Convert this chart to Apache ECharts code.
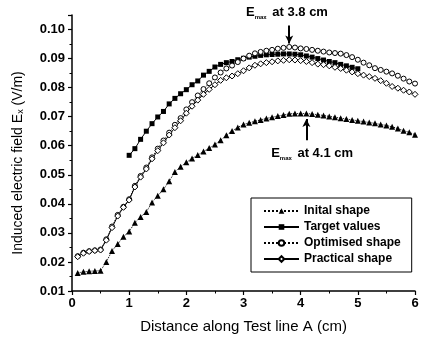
<!DOCTYPE html>
<html>
<head>
<meta charset="utf-8">
<script src="https://cdn.jsdelivr.net/npm/echarts@6/dist/echarts.min.js"></script>
<style>
  html, body { margin: 0; padding: 0; background: #fff; }
  #chart { width: 422px; height: 340px; }
</style>
</head>
<body>
<div id="chart"></div>
<script>
// distances along test line A (cm)
const distFull = [0.1, 0.2, 0.3, 0.4, 0.5, 0.6, 0.7, 0.8, 0.9, 1.0,
  1.1, 1.2, 1.3, 1.4, 1.5, 1.6, 1.7, 1.8, 1.9, 2.0,
  2.1, 2.2, 2.3, 2.4, 2.5, 2.6, 2.7, 2.8, 2.9, 3.0,
  3.1, 3.2, 3.3, 3.4, 3.5, 3.6, 3.7, 3.8, 3.9, 4.0,
  4.1, 4.2, 4.3, 4.4, 4.5, 4.6, 4.7, 4.8, 4.9, 5.0,
  5.1, 5.2, 5.3, 5.4, 5.5, 5.6, 5.7, 5.8, 5.9, 6.0]
const distTarget = [1.0, 1.1, 1.2, 1.3, 1.4, 1.5, 1.6, 1.7, 1.8, 1.9, 2.0,
  2.1, 2.2, 2.3, 2.4, 2.5, 2.6, 2.7, 2.8, 2.9, 3.0,
  3.1, 3.2, 3.3, 3.4, 3.5, 3.6, 3.7, 3.8, 3.9, 4.0,
  4.1, 4.2, 4.3, 4.4, 4.5, 4.6, 4.7, 4.8, 4.9, 5.0]

// induced field Ex (V/m)
const initialShape = [0.0162, 0.0166, 0.0168, 0.0169, 0.0170, 0.0200, 0.0238, 0.0262, 0.0287, 0.0305,
  0.0335, 0.0355, 0.0372, 0.0405, 0.0428, 0.0450, 0.0478, 0.0510, 0.0528, 0.0543,
  0.0556, 0.0568, 0.0580, 0.0592, 0.0604, 0.0619, 0.0636, 0.0651, 0.0663, 0.0673,
  0.0679, 0.0684, 0.0689, 0.0694, 0.0698, 0.0702, 0.0706, 0.0710, 0.0711, 0.0711,
  0.0711, 0.0709, 0.0707, 0.0704, 0.0701, 0.0698, 0.0695, 0.0692, 0.0689, 0.0686,
  0.0683, 0.0680, 0.0677, 0.0673, 0.0670, 0.0665, 0.0659, 0.0652, 0.0646, 0.0638]
const targetValues = [0.0567, 0.0590, 0.0622, 0.0650, 0.0676, 0.0699, 0.0718, 0.0744, 0.0763, 0.0779, 0.0793,
  0.0810, 0.0823, 0.0843, 0.0856, 0.0871, 0.0880, 0.0886, 0.0890, 0.0896, 0.0901,
  0.0905, 0.0908, 0.0911, 0.0913, 0.0914, 0.0915, 0.0916, 0.0916, 0.0915, 0.0913,
  0.0909, 0.0905, 0.0900, 0.0895, 0.0890, 0.0886, 0.0880, 0.0875, 0.0870, 0.0865]
const optimisedShape = [0.0220, 0.0232, 0.0237, 0.0240, 0.0243, 0.0278, 0.0322, 0.0362, 0.0390, 0.0416,
  0.0462, 0.0496, 0.0525, 0.0560, 0.0590, 0.0618, 0.0645, 0.0672, 0.0695, 0.0725,
  0.0750, 0.0773, 0.0795, 0.0815, 0.0835, 0.0852, 0.0866, 0.0876, 0.0888, 0.0900,
  0.0910, 0.0918, 0.0923, 0.0927, 0.0930, 0.0934, 0.0937, 0.0940, 0.0938, 0.0935,
  0.0933, 0.0930, 0.0927, 0.0924, 0.0921, 0.0919, 0.0917, 0.0912, 0.0905, 0.0896,
  0.0886, 0.0877, 0.0867, 0.0861, 0.0855, 0.0849, 0.0841, 0.0831, 0.0821, 0.0814]
const practicalShape = [0.0218, 0.0230, 0.0236, 0.0239, 0.0241, 0.0275, 0.0318, 0.0358, 0.0388, 0.0413,
  0.0458, 0.0492, 0.0520, 0.0555, 0.0583, 0.0610, 0.0637, 0.0662, 0.0686, 0.0712,
  0.0736, 0.0757, 0.0777, 0.0794, 0.0810, 0.0825, 0.0834, 0.0840, 0.0848, 0.0858,
  0.0868, 0.0877, 0.0882, 0.0886, 0.0889, 0.0892, 0.0894, 0.0896, 0.0895, 0.0893,
  0.0890, 0.0886, 0.0881, 0.0879, 0.0875, 0.0870, 0.0866, 0.0860, 0.0854, 0.0848,
  0.0843, 0.0838, 0.0832, 0.0824, 0.0815, 0.0804, 0.0798, 0.0791, 0.0785, 0.0777]

const seriesNames = ['Inital shape', 'Target values', 'Optimised shape', 'Practical shape']

function pairs(xs, ys) {
  return xs.map((x, i) => [x, ys[i]])
}

const font = 'Liberation Sans, Arial, sans-serif'
const annotRich = {
  e: { fontSize: 13, fontWeight: 'bold', fontFamily: font, color: '#000', lineHeight: 16 },
  s: { fontSize: 6, fontWeight: 'bold', fontFamily: font, color: '#000', lineHeight: 6, padding: [9, 2, 0, 0] },
  t: { fontSize: 13, fontWeight: 'bold', fontFamily: font, color: '#000', lineHeight: 16 },
}

const chart = echarts.init(document.getElementById('chart'), null, { renderer: 'canvas' })

const axisCommon = {
  axisLine: { lineStyle: { color: '#000', width: 1.5 } },
  axisTick: { show: true, inside: false, length: 4, lineStyle: { color: '#000', width: 1.2 } },
  minorTick: { show: true, splitNumber: 2, length: 2.5, lineStyle: { color: '#000', width: 1 } },
  splitLine: { show: false },
}

chart.setOption({
  animation: false,
  backgroundColor: '#fff',
  grid: { left: 72, right: 7, top: 15, bottom: 49 },
  xAxis: {
    type: 'value',
    min: 0,
    max: 6,
    interval: 1,
    name: 'Distance along Test line A (cm)',
    nameLocation: 'middle',
    nameGap: 28,
    nameTextStyle: { fontFamily: font, fontSize: 15, color: '#000' },
    axisLabel: { color: '#000', fontFamily: font, fontSize: 13, fontWeight: 'bold', margin: 6 },
    ...axisCommon,
  },
  yAxis: {
    type: 'value',
    min: 0.01,
    max: 0.105,
    interval: 0.01,
    name: 'Induced electric field E{sub|x} (V/m)',
    nameLocation: 'middle',
    nameGap: 47,
    nameTextStyle: {
      fontFamily: font, fontSize: 14, color: '#000',
      padding: [0, 0, 0, -20],
      rich: { sub: { fontFamily: font, fontSize: 9, color: '#000', padding: [0, 0, -6, 0] } },
    },
    axisLabel: {
      color: '#000', fontFamily: font, fontSize: 13, fontWeight: 'bold', margin: 7,
      formatter: v => Math.abs(v * 100 - Math.round(v * 100)) < 1e-6 ? v.toFixed(2) : '',
    },
    ...axisCommon,
  },
  legend: {
    data: seriesNames,
    orient: 'vertical',
    left: 251,
    top: 198,
    padding: [7, 11, 7, 12],
    itemGap: 4,
    itemWidth: 35,
    itemHeight: 7,
    itemTextGap: 3,
    borderColor: '#000',
    borderWidth: 1,
    textStyle: { fontFamily: font, fontSize: 12, fontWeight: 'bold', color: '#000' },
  },
  series: [
    {
      name: seriesNames[0],
      type: 'line',
      data: pairs(distFull, initialShape),
      symbol: 'triangle',
      symbolSize: 6,
      itemStyle: { color: '#000' },
      lineStyle: { color: '#000', width: 1, type: 'dotted' },
      emphasis: { disabled: true },
      markLine: {
        silent: true,
        symbol: ['none', 'arrow'],
        symbolSize: [6, 8],
        label: { show: false },
        lineStyle: { color: '#000', width: 2, type: 'solid' },
        data: [[{ coord: [4.1, 0.0619] }, { coord: [4.1, 0.0692] }]],
      },
      markPoint: {
        symbol: 'circle',
        symbolSize: 0,
        label: {
          show: true,
          position: 'inside',
          formatter: '{e|E}{s|max}{t| at 4.1 cm}',
          rich: annotRich,
        },
        data: [{ coord: [4.2, 0.0573] }],
      },
    },
    {
      name: seriesNames[1],
      type: 'line',
      data: pairs(distTarget, targetValues),
      symbol: 'rect',
      symbolSize: 5,
      itemStyle: { color: '#000' },
      lineStyle: { color: '#000', width: 1, type: 'solid' },
      emphasis: { disabled: true },
    },
    {
      name: seriesNames[2],
      type: 'line',
      data: pairs(distFull, optimisedShape),
      symbol: 'circle',
      symbolSize: 5,
      itemStyle: { color: '#fff', borderColor: '#000', borderWidth: 1 },
      lineStyle: { color: '#000', width: 1, type: 'dotted' },
      emphasis: { disabled: true },
      markLine: {
        silent: true,
        symbol: ['none', 'arrow'],
        symbolSize: [6, 8],
        label: { show: false },
        lineStyle: { color: '#000', width: 2, type: 'solid' },
        data: [[{ coord: [3.8, 0.1014] }, { coord: [3.8, 0.0952] }]],
      },
      markPoint: {
        symbol: 'circle',
        symbolSize: 0,
        label: {
          show: true,
          position: 'inside',
          offset: [0, -3],
          formatter: '{e|E}{s|max}{t| at 3.8 cm}',
          rich: annotRich,
        },
        data: [{ coord: [3.76, 0.1048] }],
      },
    },
    {
      name: seriesNames[3],
      type: 'line',
      data: pairs(distFull, practicalShape),
      symbol: 'diamond',
      symbolSize: 6,
      itemStyle: { color: '#fff', borderColor: '#000', borderWidth: 1 },
      lineStyle: { color: '#000', width: 1, type: 'solid' },
      emphasis: { disabled: true },
    },
  ],
})
</script>
</body>
</html>
